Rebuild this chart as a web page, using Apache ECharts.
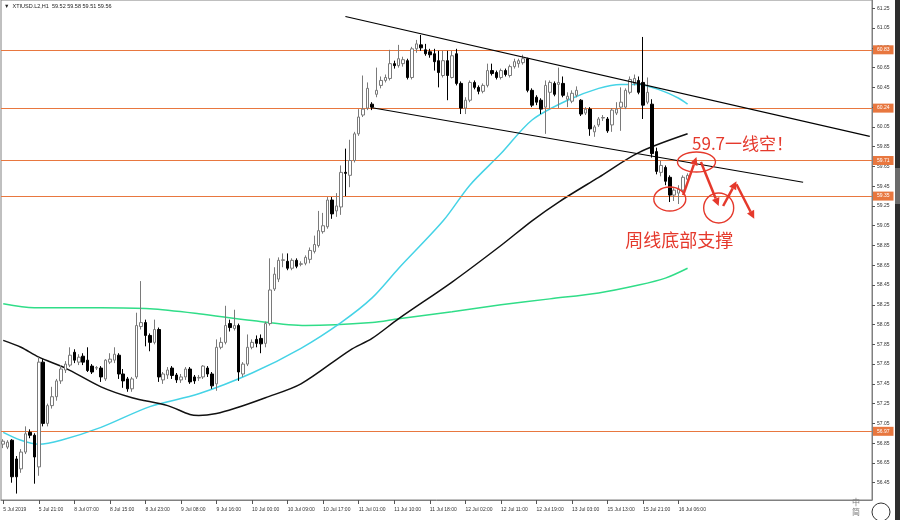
<!DOCTYPE html>
<html>
<head>
<meta charset="utf-8">
<script src="https://cdn.jsdelivr.net/npm/echarts@6/dist/echarts.min.js"></script>
<style>
  html, body { margin: 0; padding: 0; background: #fff; }
  #main { width: 900px; height: 520px; }
</style>
</head>
<body>
<div id="main"></div>
<script>
// H1 candles, [open, high, low, close]
const candles = [
  [56.84,56.89,56.80,56.87],[56.81,56.88,56.79,56.86],[56.88,56.89,56.45,56.51],[56.69,56.72,56.34,56.51],
  [56.59,56.79,56.55,56.76],[56.76,57.02,56.74,56.945],[56.96,56.99,56.90,56.93],[56.93,56.95,56.44,56.71],
  [56.61,57.72,56.52,57.67],[57.67,57.70,57.02,57.05],[57.05,57.25,57.02,57.23],[57.23,57.42,57.20,57.32],
  [57.32,57.50,57.28,57.48],[57.48,57.64,57.45,57.60],[57.59,57.68,57.56,57.65],[57.64,57.82,57.62,57.74],
  [57.77,57.80,57.66,57.69],[57.67,57.75,57.64,57.72],[57.73,57.76,57.64,57.67],[57.69,57.82,57.57,57.585],
  [57.63,57.65,57.55,57.57],[57.61,57.63,57.59,57.615],[57.61,57.63,57.47,57.52],[57.50,57.70,57.48,57.69],
  [57.67,57.76,57.65,57.70],[57.69,57.82,57.66,57.75],[57.74,57.76,57.50,57.55],[57.55,57.60,57.41,57.48],
  [57.50,57.52,57.37,57.40],[57.40,57.52,57.37,57.50],[57.52,58.17,57.50,58.04],[58.03,58.49,58.00,58.07],
  [58.07,58.10,57.83,57.94],[57.94,57.96,57.78,57.87],[57.87,58.10,57.85,58.00],[58.00,58.02,57.47,57.52],
  [57.49,57.57,57.45,57.55],[57.54,57.62,57.50,57.59],[57.61,57.63,57.50,57.535],[57.54,57.56,57.46,57.49],
  [57.49,57.55,57.46,57.52],[57.52,57.62,57.49,57.60],[57.60,57.62,57.45,57.47],[57.52,57.54,57.45,57.48],
  [57.51,57.54,57.48,57.515],[57.52,57.64,57.50,57.63],[57.61,57.63,57.52,57.55],[57.55,57.57,57.40,57.43],
  [57.45,57.90,57.38,57.82],[57.82,57.92,57.80,57.87],[57.87,58.24,57.85,58.04],[58.06,58.10,57.98,58.02],
  [58.01,58.20,57.99,58.04],[58.04,58.06,57.48,57.57],[57.55,57.67,57.52,57.65],[57.65,57.95,57.63,57.82],
  [57.82,57.90,57.80,57.87],[57.90,57.94,57.82,57.86],[57.91,57.95,57.76,57.855],[57.86,58.08,57.82,58.06],
  [58.06,58.72,58.04,58.40],[58.41,58.63,58.39,58.56],[58.51,58.73,58.48,58.70],[58.70,58.77,58.63,58.705],
  [58.69,58.77,58.60,58.62],[58.62,58.72,58.60,58.70],[58.70,58.72,58.62,58.64],[58.66,58.69,58.64,58.665],
  [58.67,58.75,58.65,58.73],[58.71,58.83,58.67,58.80],[58.79,58.95,58.77,58.86],[58.85,59.20,58.83,59.00],
  [58.99,59.18,58.97,59.05],[59.04,59.34,59.02,59.31],[59.31,59.34,59.12,59.17],[59.20,59.38,59.14,59.25],
  [59.24,59.66,59.16,59.59],[59.59,59.83,59.35,59.58],[59.56,59.92,59.44,59.71],[59.71,60.00,59.69,59.98],
  [59.98,60.23,59.96,60.15],[60.17,60.57,60.15,60.23],[60.24,60.50,60.22,60.44],[60.28,60.30,60.22,60.25],
  [60.38,60.65,60.35,60.42],[60.47,60.56,60.44,60.52],[60.52,60.58,60.50,60.55],[60.54,60.83,60.52,60.69],
  [60.69,60.72,60.64,60.67],[60.67,60.88,60.65,60.74],[60.69,60.76,60.66,60.73],[60.72,60.74,60.53,60.55],
  [60.55,60.86,60.53,60.84],[60.84,60.93,60.80,60.89],[60.88,60.98,60.82,60.85],[60.83,60.89,60.77,60.79],
  [60.81,60.84,60.75,60.78],[60.79,60.84,60.62,60.71],[60.72,60.82,60.45,60.60],[60.57,60.82,60.55,60.72],
  [60.72,60.82,60.32,60.57],[60.55,60.82,60.54,60.77],[60.79,60.84,60.47,60.49],[60.49,60.51,60.18,60.24],
  [60.24,60.35,60.18,60.32],[60.32,60.52,60.30,60.50],[60.50,60.52,60.43,60.45],[60.45,60.47,60.38,60.41],
  [60.41,60.49,60.39,60.47],[60.47,60.69,60.45,60.62],[60.62,60.69,60.57,60.59],[60.60,60.62,60.53,60.55],
  [60.55,60.64,60.53,60.62],[60.62,60.64,60.56,60.58],[60.57,60.68,60.55,60.66],[60.66,60.74,60.64,60.71],
  [60.69,60.74,60.65,60.72],[60.70,60.78,60.68,60.74],[60.74,60.75,60.40,60.42],[60.42,60.44,60.25,60.27],
  [60.35,60.37,60.27,60.30],[60.32,60.34,60.18,60.23],[60.25,60.52,59.98,60.47],[60.40,60.52,60.23,60.50],
  [60.49,60.51,60.36,60.38],[60.48,60.65,60.24,60.50],[60.49,60.56,60.35,60.37],[60.33,60.40,60.25,60.36],
  [60.31,60.42,60.29,60.39],[60.37,60.46,60.35,60.42],[60.32,60.33,60.16,60.18],[60.19,60.25,60.17,60.23],
  [60.23,60.25,59.96,60.03],[60.00,60.07,59.95,60.05],[60.07,60.15,60.05,60.13],[60.14,60.17,60.11,60.145],
  [60.13,60.15,59.99,60.01],[60.07,60.24,60.00,60.22],[60.19,60.30,60.17,60.23],[60.25,60.45,60.01,60.30],
  [60.25,60.44,60.23,60.42],[60.40,60.56,60.38,60.53],[60.49,60.58,60.47,60.54],[60.52,60.56,60.38,60.40],
  [60.50,60.96,60.13,60.27],[60.30,60.55,60.28,60.40],[60.28,60.33,59.74,59.78],[59.80,59.84,59.57,59.60],
  [59.59,59.71,59.55,59.66],[59.64,59.66,59.46,59.50],[59.54,59.56,59.29,59.36],[59.36,59.43,59.30,59.41],
  [59.38,59.46,59.27,59.42],[59.41,59.56,59.39,59.54],[59.52,59.58,59.51,59.56]
];

// moving averages, [bar index, price]
const maFast = [[0,56.96],[4,56.88],[8,56.84],[13,56.88],[22,57.01],[33,57.22],[44,57.35],[56,57.56],[67,57.81],
  [76,58.07],[83,58.32],[89,58.62],[99,59.10],[105,59.46],[112,59.78],[119,60.12],[127,60.32],[134,60.44],
  [139,60.48],[143,60.48],[148,60.42],[152,60.34],[154,60.28]];
const maMid = [[0,57.89],[4,57.82],[8,57.72],[14,57.61],[22,57.42],[29,57.31],[37,57.23],[42,57.14],[44,57.13],
  [48,57.15],[52,57.20],[59,57.31],[67,57.45],[78,57.79],[83,57.91],[89,58.11],[101,58.48],[112,58.85],
  [119,59.10],[125,59.29],[134,59.54],[143,59.79],[154,59.98]];
const maSlow = [[0,58.26],[7,58.22],[22,58.22],[33,58.21],[44,58.16],[56,58.09],[68,58.04],[83,58.07],[89,58.11],
  [101,58.18],[112,58.25],[123,58.31],[134,58.37],[143,58.45],[149,58.52],[154,58.62]];

// channel lines
const channelTop = [[77,61.167],[195,59.955]];
const channelBottom = [[83,60.244],[180,59.49]];

// horizontal levels + last price
const levels = [60.83, 60.24, 59.71, 59.35, 56.97];
const lastPrice = 59.56;

const yTicks = [56.45,56.65,56.85,57.05,57.25,57.45,57.65,57.85,58.05,58.25,58.45,58.65,58.85,
  59.05,59.25,59.45,59.65,59.85,60.05,60.25,60.45,60.65,60.85,61.05,61.25];
const tickLabels = ['5 Jul 2019','5 Jul 21:00','8 Jul 07:00','8 Jul 15:00','8 Jul 23:00','9 Jul 08:00',
  '9 Jul 16:00','10 Jul 00:00','10 Jul 09:00','10 Jul 17:00','11 Jul 01:00','11 Jul 10:00','11 Jul 18:00',
  '12 Jul 02:00','12 Jul 11:00','12 Jul 19:00','13 Jul 03:00','15 Jul 13:00','15 Jul 21:00','16 Jul 06:00'];
const slotCount = 196; // visible bar slots incl. empty space on the right
const categories = [];
for (let i = 0; i < slotCount; i++) categories.push(i);

const red = '#e5392c';
const orange = '#e8773f';

var myChart = echarts.init(document.getElementById('main'));
var option = {
  animation: false,
  backgroundColor: '#fff',
  grid: { left: 1, right: 28, top: 0, bottom: 20, show: true, borderColor: '#808080', borderWidth: 1 },
  xAxis: {
    type: 'category',
    data: categories,
    boundaryGap: true,
    axisLine: { show: true, lineStyle: { color: '#808080' } },
    axisTick: {
      show: true, alignWithLabel: true, length: 4,
      interval: (idx) => idx % 8 === 0 && idx / 8 < tickLabels.length,
      lineStyle: { color: '#555' }
    },
    axisLabel: {
      interval: (idx) => idx % 8 === 0 && idx / 8 < tickLabels.length,
      formatter: (v, idx) => tickLabels[idx / 8] || '',
      align: 'left', margin: 7, fontSize: 5, color: '#333', fontFamily: 'Liberation Sans'
    },
    splitLine: { show: false }
  },
  yAxis: {
    type: 'value',
    position: 'right',
    min: 56.275,
    max: 61.334,
    scale: true,
    axisLine: { show: true, lineStyle: { color: '#808080' } },
    axisTick: { show: true, length: 3, customValues: yTicks, lineStyle: { color: '#555' } },
    axisLabel: {
      customValues: yTicks, formatter: (v) => v.toFixed(2),
      fontSize: 5, color: '#333', margin: 5, fontFamily: 'Liberation Sans'
    },
    splitLine: { show: false }
  },
  series: [
    {
      type: 'line', data: maSlow, smooth: 0.3, symbol: 'none', z: 1,
      lineStyle: { color: '#30dd88', width: 1.5 }
    },
    {
      type: 'line', data: maFast, smooth: 0.3, symbol: 'none', z: 1,
      lineStyle: { color: '#45d3e6', width: 1.5 }
    },
    {
      type: 'line', data: maMid, smooth: 0.3, symbol: 'none', z: 1,
      lineStyle: { color: '#111', width: 1.5 }
    },
    {
      type: 'candlestick',
      data: candles.map(c => [c[0], c[3], c[2], c[1]]),
      barWidth: 3,
      z: 3,
      itemStyle: {
        color: '#ffffff', color0: '#000000',
        borderColor: '#7a7a7a', borderColor0: '#000000', borderWidth: 1
      },
      markLine: {
        silent: true,
        symbol: ['none', 'none'],
        z: 2,
        data: levels.map(v => ({
          yAxis: v,
          lineStyle: { color: orange, width: 1.2, type: 'solid' },
          label: { backgroundColor: orange }
        })).concat([{
          yAxis: lastPrice,
          lineStyle: { opacity: 0 },
          label: { backgroundColor: '#000' }
        }]),
        label: {
          position: 'end', distance: 1, color: '#fff', fontSize: 5, padding: [2, 4],
          fontFamily: 'Liberation Sans',
          formatter: (p) => p.value.toFixed(2)
        }
      }
    },
    {
      type: 'line', data: channelTop, symbol: 'none', z: 4,
      lineStyle: { color: '#000', width: 1.2 }
    },
    {
      type: 'line', data: channelBottom, symbol: 'none', z: 4,
      lineStyle: { color: '#000', width: 1.2 }
    }
  ]
};
option && myChart.setOption(option, true);

// hand-drawn notes, placed in data coordinates
const noteEllipses = [
  { at: [156, 59.695], rx: 19, ry: 10 },
  { at: [150, 59.32], rx: 16, ry: 12 },
  { at: [161, 59.23], rx: 15, ry: 15 }
];
const noteArrows = [
  [[153, 59.36], [156, 59.745]],
  [[157, 59.695], [161, 59.25]],
  [[162, 59.25], [165, 59.50]],
  [[165, 59.47], [169, 59.12]]
];
const noteTexts = [
  { at: [155, 59.877], text: '59.7一线空！', size: 17 },
  { at: [140, 58.906], text: '周线底部支撑', size: 18 }
];

function px(pt) {
  return myChart.convertToPixel({ gridIndex: 0 }, pt);
}

var graphics = [];
noteEllipses.forEach(e => {
  const c = px(e.at);
  graphics.push({
    type: 'ellipse', shape: { cx: c[0], cy: c[1], rx: e.rx, ry: e.ry },
    style: { fill: 'none', stroke: red, lineWidth: 1.4 }, z: 10
  });
});
noteArrows.forEach(a => {
  const p1 = px(a[0]), p2 = px(a[1]);
  const ang = Math.atan2(p2[1] - p1[1], p2[0] - p1[0]);
  const hl = 8, hw = 4;
  const bx = p2[0] - hl * Math.cos(ang), by = p2[1] - hl * Math.sin(ang);
  graphics.push({
    type: 'line', shape: { x1: p1[0], y1: p1[1], x2: bx, y2: by },
    style: { stroke: red, lineWidth: 2.5 }, z: 10
  });
  graphics.push({
    type: 'polygon',
    shape: { points: [
      [p2[0], p2[1]],
      [bx + hw * Math.sin(ang), by - hw * Math.cos(ang)],
      [bx - hw * Math.sin(ang), by + hw * Math.cos(ang)]
    ] },
    style: { fill: red }, z: 10
  });
});
noteTexts.forEach(t => {
  const c = px(t.at);
  graphics.push({
    type: 'text', x: c[0], y: c[1],
    style: {
      text: t.text, fill: red, fontSize: t.size, verticalAlign: 'middle',
      fontFamily: 'Noto Sans CJK SC'
    }, z: 10
  });
});
// header + window bits
graphics.push({
  type: 'text', left: 4, top: 3,
  style: { text: '▼  XTIUSD.L2,H1  59.52 59.58 59.51 59.56', fill: '#222', fontSize: 5.5, fontFamily: 'Liberation Sans' }
});
graphics.push({ type: 'rect', shape: { x: 895, y: 0, width: 5, height: 520 }, style: { fill: '#2e2e2e' } });
graphics.push({ type: 'rect', shape: { x: 895, y: 168, width: 5, height: 36 }, style: { fill: '#6a6a6a' } });
graphics.push({ type: 'text', x: 852, y: 498, style: { text: '中', fill: '#777', fontSize: 8, fontFamily: 'Noto Sans CJK SC' } });
graphics.push({ type: 'text', x: 852, y: 508, style: { text: '简', fill: '#777', fontSize: 8, fontFamily: 'Noto Sans CJK SC' } });
graphics.push({ type: 'circle', shape: { cx: 881, cy: 512, r: 9 }, style: { fill: '#fff', stroke: '#333', lineWidth: 1 } });

myChart.setOption({ graphic: graphics });
</script>
</body>
</html>
